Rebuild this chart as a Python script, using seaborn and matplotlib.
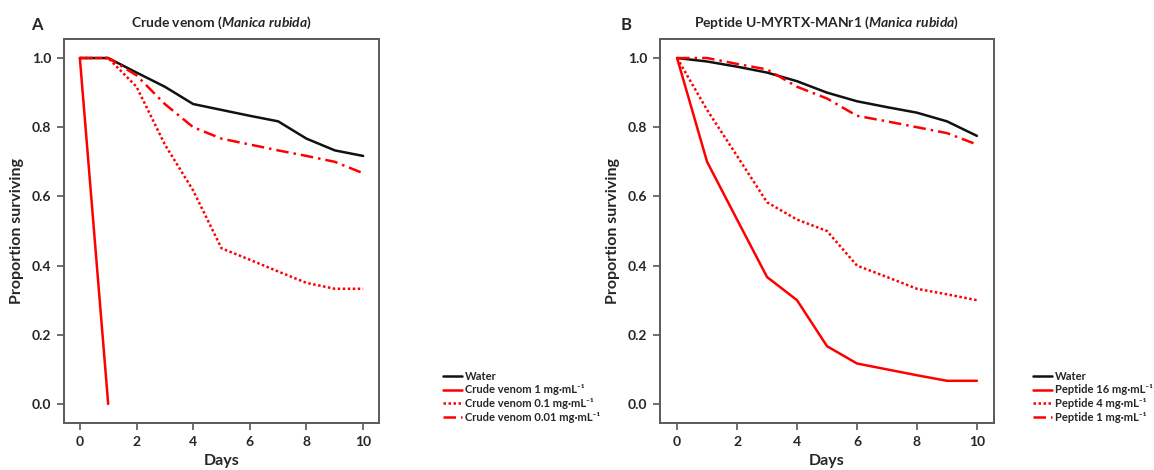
import numpy as np
import pandas as pd
import matplotlib
matplotlib.use("Agg")
import matplotlib.pyplot as plt
import seaborn as sns

days = [0, 1, 2, 3, 4, 5, 6, 7, 8, 9, 10]

# Panel A: crude venom
a_water = [1.0, 1.0, 0.958, 0.917, 0.867, 0.850, 0.833, 0.817, 0.767, 0.733, 0.717]
a_days_1 = [0, 1]
a_crude_1 = [1.0, 0.0]
a_crude_01 = [1.0, 1.0, 0.917, 0.750, 0.617, 0.450, 0.417, 0.383, 0.350, 0.333, 0.333]
a_crude_001 = [1.0, 1.0, 0.950, 0.867, 0.800, 0.767, 0.750, 0.733, 0.717, 0.700, 0.667]

# Panel B: peptide
b_water = [1.0, 0.990, 0.975, 0.958, 0.933, 0.900, 0.875, 0.858, 0.842, 0.817, 0.775]
b_pep_16 = [1.0, 0.700, 0.533, 0.367, 0.300, 0.167, 0.117, 0.100, 0.083, 0.067, 0.067]
b_pep_4 = [1.0, 0.850, 0.717, 0.583, 0.533, 0.500, 0.400, 0.367, 0.333, 0.317, 0.300]
b_pep_1 = [1.0, 1.0, 0.983, 0.967, 0.917, 0.883, 0.833, 0.817, 0.800, 0.783, 0.750]

labels_a = ["Water", "Crude venom 1 mg·mL⁻¹", "Crude venom 0.1 mg·mL⁻¹",
            "Crude venom 0.01 mg·mL⁻¹"]
labels_b = ["Water", "Peptide 16 mg·mL⁻¹", "Peptide 4 mg·mL⁻¹",
            "Peptide 1 mg·mL⁻¹"]
yticks = [0.0, 0.2, 0.4, 0.6, 0.8, 1.0]
xticks = [0, 2, 4, 6, 8, 10]

sns.set_style("white")
plt.rcParams['font.family'] = ['Lato', 'DejaVu Sans']
plt.rcParams['font.weight'] = 'bold'
plt.rcParams['mathtext.fontset'] = 'custom'
plt.rcParams['mathtext.rm'] = 'Lato:bold'
plt.rcParams['mathtext.it'] = 'Lato:italic:bold'
plt.rcParams['mathtext.bf'] = 'Lato:bold'

RED = "#ff0000"
BLACK = "#111111"
SOLID = "-"
DOT = (0, (1, 1))
DASHDOT = (0, (5, 2, 1, 2))

fig = plt.figure(figsize=(11.54, 4.70), dpi=100)
axA = fig.add_axes([64 / 1154, 47 / 470, 315 / 1154, 384 / 470])
axB = fig.add_axes([660 / 1154, 47 / 470, 334 / 1154, 384 / 470])

seriesA = [(days, a_water, BLACK, SOLID), (a_days_1, a_crude_1, RED, SOLID),
           (days, a_crude_01, RED, DOT), (days, a_crude_001, RED, DASHDOT)]
seriesB = [(days, b_water, BLACK, SOLID), (days, b_pep_16, RED, SOLID),
           (days, b_pep_4, RED, DOT), (days, b_pep_1, RED, DASHDOT)]

def draw(ax, series, labels, xlim, title, letter, letter_x, leg_x):
    for (x, y, c, ls), lab in zip(series, labels):
        sns.lineplot(x=x, y=y, color=c, linestyle=ls, linewidth=1.8, ax=ax, label=lab)
    ax.set_xlim(*xlim)
    ax.set_ylim(-0.055, 1.055)
    ax.set_xticks(xticks)
    ax.set_yticks(yticks)
    ax.set_yticklabels([f"{v:.1f}" for v in yticks])
    ax.tick_params(axis='both', direction='out', length=5, width=1.2, color='#555555',
                   labelsize=10, pad=4, bottom=True, left=True)
    for s in ax.spines.values():
        s.set_color('#5a5a5a')
        s.set_linewidth(1.4)
    ax.set_xlabel("Days", fontsize=11.5, fontweight='bold', labelpad=5)
    ax.set_ylabel("Proportion surviving", fontsize=11.5, fontweight='bold', labelpad=6)
    ax.set_title(title, fontsize=10, fontweight='bold', pad=9)
    ax.text(letter_x, 1.036, letter, transform=ax.transAxes, fontsize=12,
            fontweight='bold', ha='center', va='center')
    ax.legend(loc='lower left', bbox_to_anchor=(leg_x, 0.0), frameon=False,
              fontsize=8, handlelength=1.7, handletextpad=0.25,
              labelspacing=0.25, borderpad=0, borderaxespad=0)

draw(axA, seriesA, labels_a, (-0.56, 10.56),
     r"Crude venom ($\mathit{Manica\ rubida}$)", "A", -0.086, 1.203)
draw(axB, seriesB, labels_b, (-0.57, 10.57),
     r"Peptide U-MYRTX-MANr1 ($\mathit{Manica\ rubida}$)", "B", -0.10, 1.117)

fig.savefig("out.png", dpi=100)
